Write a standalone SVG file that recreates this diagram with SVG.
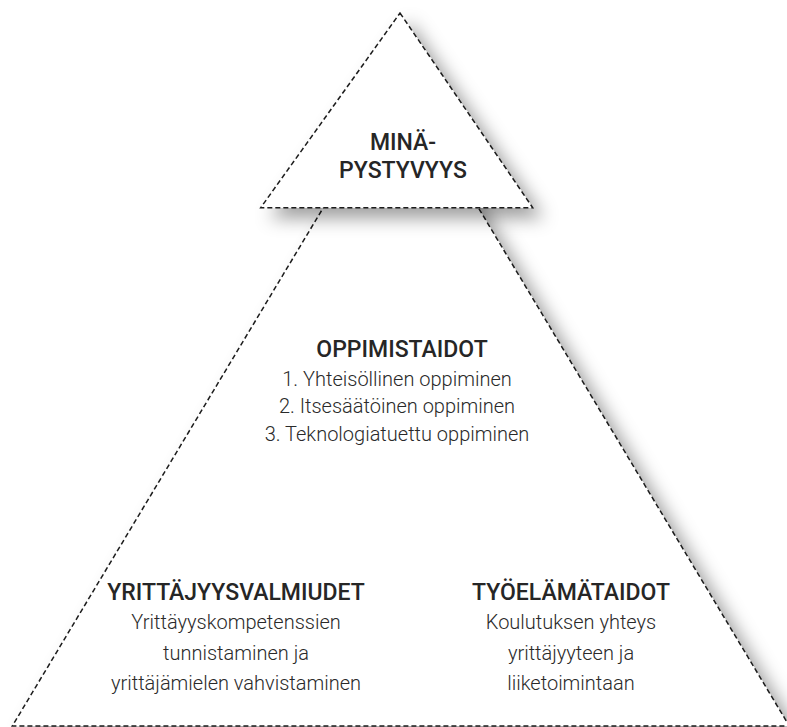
<svg xmlns="http://www.w3.org/2000/svg" width="787" height="727" viewBox="0 0 787 727">
<style>
.tri{fill:#fff;stroke:#1a1a1a;stroke-width:1.5;stroke-dasharray:5 3;filter:url(#sh)}
.h{font-family:Roboto,"Liberation Sans",sans-serif;font-weight:500;font-size:23px;fill:#262626;text-anchor:middle}
.t{font-family:Roboto,"Liberation Sans",sans-serif;font-weight:300;font-size:20px;fill:#2a2a2a;text-anchor:middle}
</style>
<defs>
<filter id="sh" x="-20%" y="-20%" width="150%" height="150%">
<feDropShadow dx="10" dy="10" stdDeviation="9" flood-color="#000" flood-opacity="0.38"/>
</filter>
</defs>
<rect width="787" height="727" fill="#fff"/>
<g id="base">
<polygon class="tri" points="400.8,78.5 789.3,726 12.3,726"/>
</g>
<g id="top">
<polygon class="tri" points="400,13 532.7,207.7 260.7,207.7"/>
</g>
<g id="connectors"></g>
<g id="minapystyvyys">
<text class="h" x="403" y="150">MINÄ-</text>
<text class="h" x="403" y="178">PYSTYVYYS</text>
</g>
<g id="oppimistaidot">
<text class="h" x="402" y="357">OPPIMISTAIDOT</text>
<text class="t" x="397" y="386">1. Yhteisöllinen oppiminen</text>
<text class="t" x="397" y="413">2. Itsesäätöinen oppiminen</text>
<text class="t" x="397" y="441">3. Teknologiatuettu oppiminen</text>
</g>
<g id="yrittajyysvalmiudet">
<text class="h" x="236" y="600">YRITTÄJYYSVALMIUDET</text>
<text class="t" x="236" y="629">Yrittäyyskompetenssien</text>
<text class="t" x="236" y="660">tunnistaminen ja</text>
<text class="t" x="236" y="690">yrittäjämielen vahvistaminen</text>
</g>
<g id="tyoelamataidot">
<text class="h" x="571" y="600">TYÖELÄMÄTAIDOT</text>
<text class="t" x="571" y="629">Koulutuksen yhteys</text>
<text class="t" x="571" y="660">yrittäjyyteen ja</text>
<text class="t" x="571" y="690">liiketoimintaan</text>
</g>
</svg>
